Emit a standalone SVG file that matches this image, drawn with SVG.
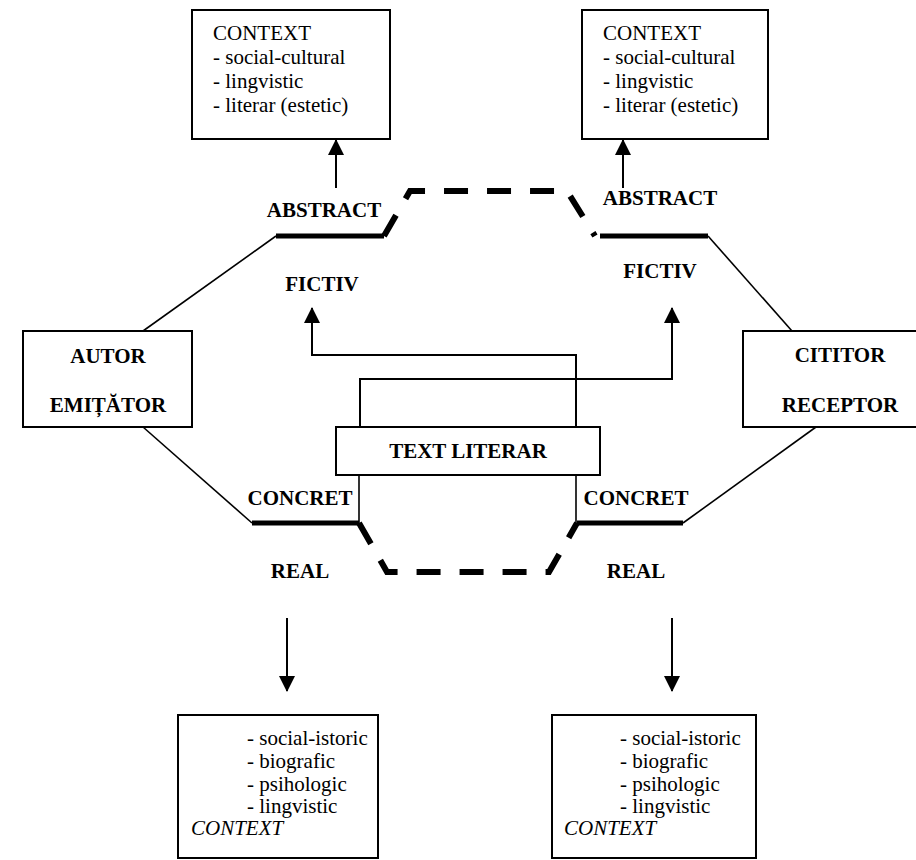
<svg xmlns="http://www.w3.org/2000/svg" width="916" height="860" viewBox="0 0 916 860">
<defs>
<marker id="ah" markerUnits="userSpaceOnUse" markerWidth="16" markerHeight="16" viewBox="0 0 16 16" refX="15" refY="8" orient="auto">
<path d="M0,0 L16,8 L0,16 Z" fill="#000"/>
</marker>
<style>
.box{fill:#fff;stroke:#000;stroke-width:2}
.t{font-family:"Liberation Serif","Times New Roman",serif;font-size:21px;fill:#000}
.b{font-weight:bold;text-anchor:middle}
.i{font-style:italic}
.thin{fill:none;stroke:#000;stroke-width:1.6}
.thick{fill:none;stroke:#000;stroke-width:5}
.dash{fill:none;stroke:#000;stroke-width:6;stroke-dasharray:24 19}
.arr{fill:none;stroke:#000;stroke-width:2;marker-end:url(#ah)}
</style>
</defs>
<rect width="916" height="860" fill="#fff"/>
<g id="connectors">
<path class="thin" d="M276,236 L143,331"/>
<path class="thin" d="M143,427 L252,523"/>
<path class="thin" d="M708,236 L792,331"/>
<path class="thin" d="M683,523 L816,427"/>
<path class="thick" d="M276,236 H384"/>
<path class="thick" d="M600,236 H708"/>
<path class="thick" d="M252,523 H359"/>
<path class="thick" d="M577,523 H683"/>
<path class="dash" d="M384,236 L410,191 H567 L595,236"/>
<path class="dash" d="M359,523 L387,572 H549 L577,523"/>
<path class="thin" d="M359,475 V523"/>
<path class="thin" d="M576,475 V523"/>
<path class="arr" d="M576,427 V355 H312 V308"/>
<path class="arr" d="M360,427 V379 H672 V308"/>
<path class="arr" d="M336,188 V140"/>
<path class="arr" d="M623,188 V140"/>
<path class="arr" d="M287,618 V691"/>
<path class="arr" d="M672,618 V691"/>
</g>
<g id="ctx-top-left">
<rect class="box" x="192" y="10" width="198" height="129"/>
<text class="t" x="213" y="40">CONTEXT</text>
<text class="t" x="213" y="64">- social-cultural</text>
<text class="t" x="213" y="88">- lingvistic</text>
<text class="t" x="213" y="112">- literar (estetic)</text>
</g>
<g id="ctx-top-right">
<rect class="box" x="582" y="10" width="186" height="129"/>
<text class="t" x="603" y="40">CONTEXT</text>
<text class="t" x="603" y="64">- social-cultural</text>
<text class="t" x="603" y="88">- lingvistic</text>
<text class="t" x="603" y="112">- literar (estetic)</text>
</g>
<g id="labels">
<text class="t b" x="324" y="217">ABSTRACT</text>
<text class="t b" x="660" y="205">ABSTRACT</text>
<text class="t b" x="322" y="291">FICTIV</text>
<text class="t b" x="660" y="278">FICTIV</text>
<text class="t b" x="300" y="505">CONCRET</text>
<text class="t b" x="636" y="505">CONCRET</text>
<text class="t b" x="300" y="578">REAL</text>
<text class="t b" x="636" y="578">REAL</text>
</g>
<g id="autor">
<rect class="box" x="23" y="331" width="169" height="96"/>
<text class="t b" x="108" y="363">AUTOR</text>
<text class="t b" x="108" y="412">EMIȚĂTOR</text>
</g>
<g id="cititor">
<rect class="box" x="743" y="331" width="200" height="96"/>
<text class="t b" x="840" y="362">CITITOR</text>
<text class="t b" x="840" y="412">RECEPTOR</text>
</g>
<g id="text-literar">
<rect class="box" x="336" y="427" width="264" height="48"/>
<text class="t b" x="468" y="458">TEXT LITERAR</text>
</g>
<g id="ctx-bottom-left">
<rect class="box" x="178" y="715" width="200" height="143"/>
<text class="t" x="247" y="745">- social-istoric</text>
<text class="t" x="247" y="768">- biografic</text>
<text class="t" x="247" y="791">- psihologic</text>
<text class="t" x="247" y="813">- lingvistic</text>
<text class="t i" x="191" y="835">CONTEXT</text>
</g>
<g id="ctx-bottom-right">
<rect class="box" x="552" y="715" width="204" height="143"/>
<text class="t" x="620" y="745">- social-istoric</text>
<text class="t" x="620" y="768">- biografic</text>
<text class="t" x="620" y="791">- psihologic</text>
<text class="t" x="620" y="813">- lingvistic</text>
<text class="t i" x="564" y="835">CONTEXT</text>
</g>
</svg>
